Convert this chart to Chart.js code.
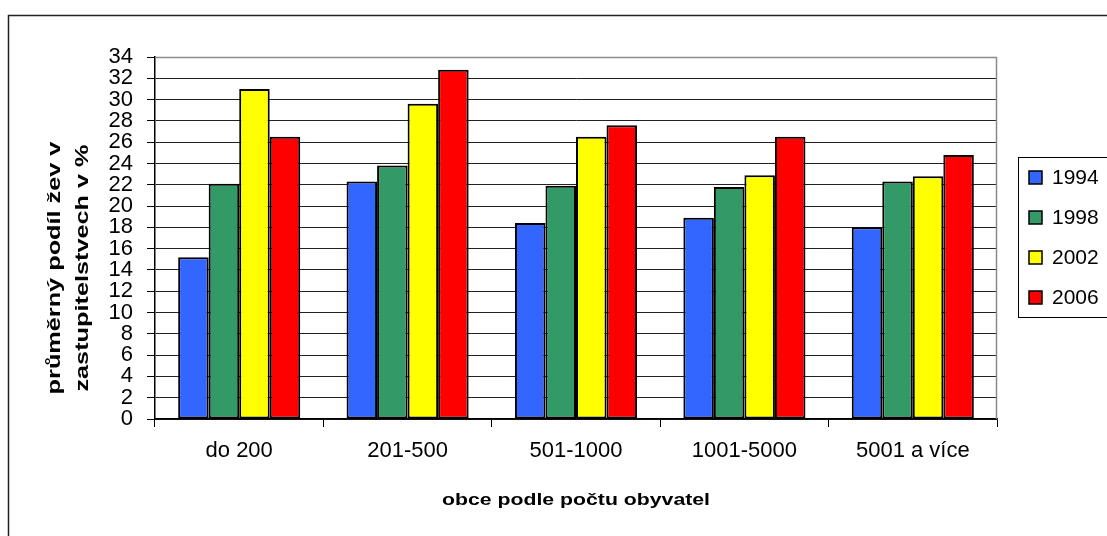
<!DOCTYPE html>
<html>
<head>
<meta charset="utf-8">
<script src="https://cdn.jsdelivr.net/npm/chart.js@4"></script>
<style>
    body { margin: 0; background: #fff; }
    canvas { display: block; }
</style>
</head>
<body>
<canvas id="chart" width="1107" height="536"></canvas>
<script>
const categories = ["do 200", "201-500", "501-1000", "1001-5000", "5001 a více"];
const years = ["1994", "1998", "2002", "2006"];
const values1994 = [15.2, 22.3, 18.4, 18.9, 18.0];
const values1998 = [22.1, 23.8, 21.9, 21.8, 22.3];
const values2002 = [31.0, 29.6, 26.5, 22.9, 22.8];
const values2006 = [26.5, 32.8, 27.6, 26.5, 24.8];
const colors = ["#3366ff", "#339966", "#ffff00", "#ff0000"];
const yTitle = ["průměrný podíl žev v", "zastupitelstvech v %"];
const xTitle = "obce podle počtu obyvatel";

const FONT = "'Liberation Sans', Arial, sans-serif";

// frame, plot border, axis titles and legend box (excel look)
const decor = {
    id: "decor",
    beforeDraw(chart) {
        const ctx = chart.ctx;
        ctx.save();
        ctx.fillStyle = "#fff";
        ctx.fillRect(0, 0, chart.width, chart.height);
        ctx.strokeStyle = "#222";
        ctx.lineWidth = 1.5;
        ctx.strokeRect(8.5, 15.5, chart.width + 20, chart.height + 20);
        ctx.restore();
    },
    afterDatasetsDraw(chart) {
        const ctx = chart.ctx;
        const a = chart.chartArea;
        ctx.save();
        ctx.strokeStyle = "#8a8a8a";
        ctx.lineWidth = 1.5;
        ctx.beginPath();
        ctx.moveTo(a.left, a.top + 0.5);
        ctx.lineTo(a.right - 0.5, a.top + 0.5);
        ctx.lineTo(a.right - 0.5, a.bottom);
        ctx.stroke();
        ctx.restore();
    },
    afterDraw(chart) {
        const ctx = chart.ctx;
        ctx.save();
        ctx.fillStyle = "#000";
        ctx.textAlign = "center";
        ctx.textBaseline = "middle";
        ctx.font = "bold 19px " + FONT;

        // y title, rotated, stretched like the original
        yTitle.forEach((line, i) => {
            ctx.save();
            ctx.translate(55 + i * 28, 268);
            ctx.rotate(-Math.PI / 2);
            ctx.scale(1.33, 1);
            ctx.fillText(line, 0, 0);
            ctx.restore();
        });

        // x title
        ctx.font = "bold 17px " + FONT;
        ctx.save();
        ctx.translate((chart.chartArea.left + chart.chartArea.right) / 2, 500);
        ctx.scale(1.25, 1);
        ctx.fillText(xTitle, 0, 0);
        ctx.restore();

        // legend
        const lx = 1018, ly = 157;
        ctx.strokeStyle = "#000";
        ctx.lineWidth = 1;
        ctx.strokeRect(lx + 0.5, ly + 0.5, 120, 160);
        ctx.font = "21px " + FONT;
        ctx.textAlign = "left";
        chart.data.datasets.forEach((ds, i) => {
            const cy = ly + 20 + i * 40;
            ctx.fillStyle = ds.backgroundColor;
            ctx.fillRect(1029, cy - 6, 13, 13);
            ctx.lineWidth = 1.5;
            ctx.strokeRect(1029, cy - 6, 13, 13);
            ctx.fillStyle = "#000";
            ctx.fillText(ds.label, 1052, cy + 1);
        });
        ctx.restore();
    }
};

const seriesValues = [values1994, values1998, values2002, values2006];

new Chart(document.getElementById("chart"), {
    type: "bar",
    data: {
        labels: categories,
        datasets: years.map((y, i) => ({
            label: y,
            data: seriesValues[i],
            backgroundColor: colors[i],
            borderColor: "#000",
            borderWidth: 2,
            borderSkipped: false
        }))
    },
    options: {
        responsive: false,
        animation: false,
        devicePixelRatio: 1,
        layout: { padding: { left: 0, top: 57, right: 110, bottom: 0 } },
        datasets: {
            bar: { categoryPercentage: 0.725, barPercentage: 1.0 }
        },
        plugins: {
            legend: { display: false },
            tooltip: { enabled: false }
        },
        scales: {
            x: {
                grid: {
                    offset: true,
                    drawOnChartArea: false,
                    tickLength: 8,
                    tickColor: "#000"
                },
                border: { color: "#000", width: 1.5 },
                ticks: {
                    color: "#000",
                    padding: 11,
                    font: { family: FONT, size: 22 }
                },
                afterFit(scale) { scale.height = 117; }
            },
            y: {
                min: 0,
                max: 34,
                grid: {
                    color: "#222",
                    tickColor: "#000",
                    tickLength: 8
                },
                border: { color: "#000", width: 1.5 },
                ticks: {
                    stepSize: 2,
                    autoSkip: false,
                    color: "#000",
                    padding: 14,
                    font: { family: FONT, size: 22 }
                },
                afterFit(scale) { scale.width = 155; }
            }
        }
    },
    plugins: [decor]
});
</script>
</body>
</html>
